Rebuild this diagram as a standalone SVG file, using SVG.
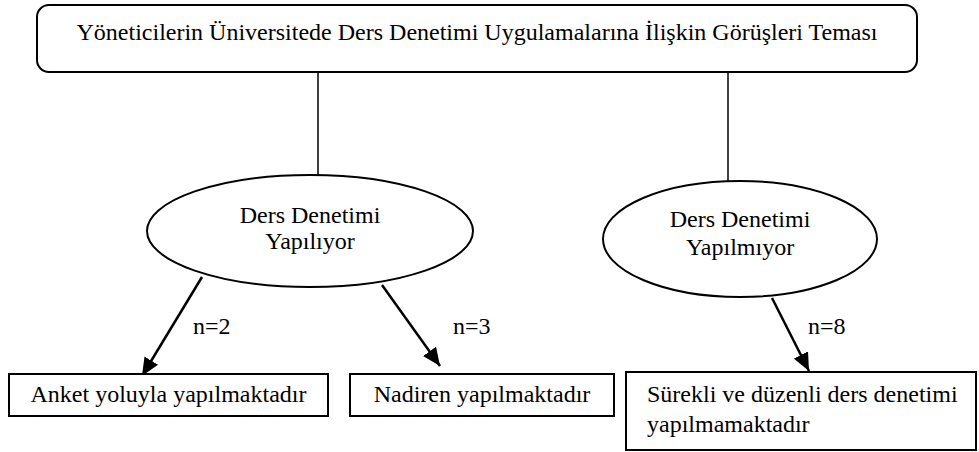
<svg xmlns="http://www.w3.org/2000/svg" width="979" height="452" viewBox="0 0 979 452">
<style>
text{font-family:"Liberation Serif","Times New Roman",serif;font-size:24px;fill:#000}
.c{text-anchor:middle}
.shape{fill:#fff;stroke:#000;stroke-width:2}
.line{stroke:#000;stroke-width:1.5;fill:none}
.arrow{stroke:#000;stroke-width:2.5;fill:none;marker-end:url(#ah)}
</style>
<defs>
<marker id="ah" markerUnits="userSpaceOnUse" markerWidth="20" markerHeight="16" refX="18" refY="8" orient="auto">
<path d="M0,0 L18,8 L0,16 Z" fill="#000"/>
</marker>
</defs>
<rect width="979" height="452" fill="#fff"/>
<g id="connectors">
<line class="line" x1="318" y1="72" x2="318" y2="176"/>
<line class="line" x1="728" y1="72" x2="728" y2="182"/>
<line class="arrow" x1="202" y1="277" x2="142" y2="376"/>
<line class="arrow" x1="382" y1="285" x2="440" y2="366"/>
<line class="arrow" x1="772" y1="298" x2="809" y2="371"/>
<text x="193" y="334">n=2</text>
<text x="453" y="334">n=3</text>
<text x="808" y="334">n=8</text>
</g>
<g id="title">
<rect class="shape" x="37" y="5" width="880" height="67" rx="12"/>
<text class="c" x="477" y="40">Yöneticilerin Üniversitede Ders Denetimi Uygulamalarına İlişkin Görüşleri Teması</text>
</g>
<g id="yapiliyor">
<ellipse class="shape" cx="310" cy="231" rx="163" ry="56"/>
<text class="c" x="310" y="223">Ders Denetimi</text>
<text class="c" x="310" y="249">Yapılıyor</text>
</g>
<g id="yapilmiyor">
<ellipse class="shape" cx="740" cy="239" rx="137" ry="58"/>
<text class="c" x="740" y="227">Ders Denetimi</text>
<text class="c" x="740" y="255">Yapılmıyor</text>
</g>
<g id="anket">
<rect class="shape" x="9" y="374" width="319" height="42"/>
<text class="c" x="168.5" y="402">Anket yoluyla yapılmaktadır</text>
</g>
<g id="nadiren">
<rect class="shape" x="350" y="374" width="264" height="42"/>
<text class="c" x="482" y="402">Nadiren yapılmaktadır</text>
</g>
<g id="surekli">
<rect class="shape" x="626" y="372" width="350" height="78"/>
<text x="647" y="402">Sürekli ve düzenli ders denetimi</text>
<text x="647" y="432">yapılmamaktadır</text>
</g>
</svg>
